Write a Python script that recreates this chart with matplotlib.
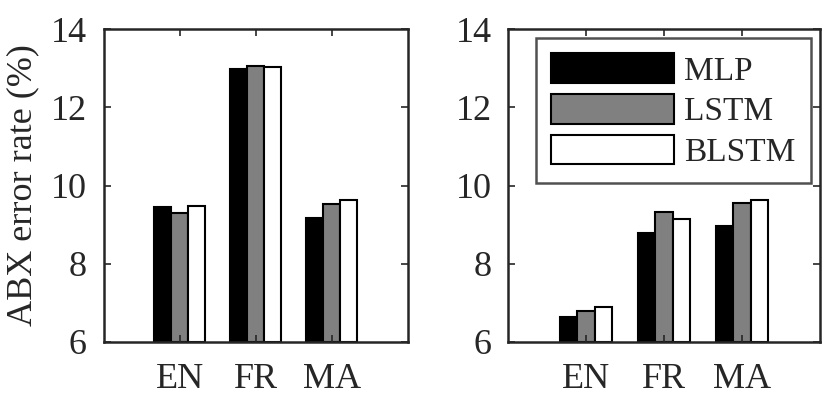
import matplotlib
matplotlib.use('Agg')
from matplotlib import pyplot as plt
import numpy as np

plt.rcParams['font.family'] = ['Liberation Serif', 'DejaVu Serif']
plt.rcParams['font.size'] = 26

languages = ['EN', 'FR', 'MA']
models = ['MLP', 'LSTM', 'BLSTM']
colors = ['#000000', '#808080', '#ffffff']
yticks = [6, 8, 10, 12, 14]

# left panel
left_mlp = [9.44, 12.98, 9.18]
left_lstm = [9.29, 13.05, 9.53]
left_blstm = [9.47, 13.02, 9.63]

# right panel
right_mlp = [6.63, 8.78, 8.97]
right_lstm = [6.79, 9.32, 9.55]
right_blstm = [6.89, 9.15, 9.62]

axis_color = '#262626'


def draw_panel(ax, series, ylabel=None):
    x = np.arange(1, len(languages) + 1)
    w = 0.225
    for i, (vals, col) in enumerate(zip(series, colors)):
        ax.bar(x + (i - 1) * w, np.array(vals) - 6, w, bottom=6,
               color=col, edgecolor='black', linewidth=1.5, label=models[i])
    ax.set_xlim(0, 4)
    ax.set_ylim(6, 14)
    ax.set_xticks(x)
    ax.set_xticklabels(languages)
    ax.set_yticks(yticks)
    ax.set_yticklabels([str(t) for t in yticks])
    ax.tick_params(direction='in', top=True, right=True, length=5,
                   width=1.2, color=axis_color, labelcolor=axis_color)
    ax.tick_params(axis='y', pad=12)
    ax.tick_params(axis='x', pad=15)
    for s in ax.spines.values():
        s.set_color(axis_color)
        s.set_linewidth(1.8)
    if ylabel:
        ax.set_ylabel(ylabel, color=axis_color, labelpad=8)


fig = plt.figure(figsize=(8.29, 3.99), dpi=100)
ax1 = fig.add_axes([0.125, 0.143, 0.367, 0.784])
ax2 = fig.add_axes([0.613, 0.143, 0.376, 0.784])

draw_panel(ax1, [left_mlp, left_lstm, left_blstm], 'ABX error rate (%)')
draw_panel(ax2, [right_mlp, right_lstm, right_blstm])

leg = ax2.legend(loc='upper right', bbox_to_anchor=(0.971, 0.971),
                 borderaxespad=0, fancybox=False, handlelength=3.7,
                 handleheight=1.0, labelspacing=0.22, handletextpad=0.3,
                 borderpad=0.45, fontsize=24)
leg.get_frame().set_edgecolor(axis_color)
leg.get_frame().set_linewidth(1.8)
for t in leg.get_texts():
    t.set_color(axis_color)

fig.savefig('out.png', dpi=100)
